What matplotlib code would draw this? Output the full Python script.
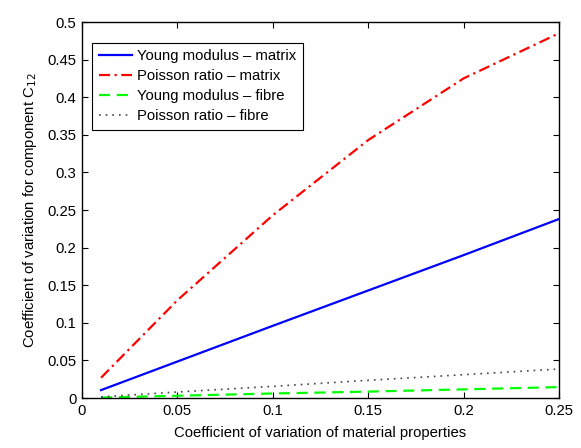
import matplotlib
matplotlib.use("Agg")
import matplotlib.pyplot as plt

plt.rcParams["font.family"] = ["Liberation Sans", "DejaVu Sans"]

cov = [0.01, 0.05, 0.1, 0.15, 0.2, 0.25]
young_matrix = [0.0105, 0.0485, 0.096, 0.143, 0.190, 0.238]
poisson_matrix = [0.027, 0.130, 0.243, 0.343, 0.425, 0.485]
young_fibre = [0.0005, 0.003, 0.006, 0.0085, 0.0115, 0.0145]
poisson_fibre = [0.0015, 0.008, 0.0155, 0.0235, 0.031, 0.0385]

fs = 10.7

fig = plt.figure(figsize=(5.81, 4.48), dpi=100)
ax = fig.add_axes([82 / 581, 1 - 398 / 448, 477 / 581, 376 / 448])

ax.plot(cov, young_matrix, color="#0000ff", lw=1.6, label="Young modulus \u2013 matrix")
ax.plot(cov, poisson_matrix, color="#ff0000", lw=1.6, linestyle=(0, (5, 2, 1, 2)),
        label="Poisson ratio \u2013 matrix")
ax.plot(cov, young_fibre, color="#00ff00", lw=1.6, linestyle=(0, (5, 3)),
        label="Young modulus \u2013 fibre")
ax.plot(cov, poisson_fibre, color="#444444", lw=1.2, linestyle=(0, (1, 3)),
        label="Poisson ratio \u2013 fibre")

ax.set_xlim(0, 0.25)
ax.set_ylim(0, 0.5)
ax.set_xticks([0, 0.05, 0.1, 0.15, 0.2, 0.25])
ax.set_xticklabels(["0", "0.05", "0.1", "0.15", "0.2", "0.25"])
ax.set_yticks([0, 0.05, 0.1, 0.15, 0.2, 0.25, 0.3, 0.35, 0.4, 0.45, 0.5])
ax.set_yticklabels(["0", "0.05", "0.1", "0.15", "0.2", "0.25", "0.3", "0.35", "0.4", "0.45", "0.5"])
ax.tick_params(direction="in", top=True, right=True, labelsize=fs, length=4, pad=4)
for s in ax.spines.values():
    s.set_linewidth(1.0)

ax.set_xlabel("Coefficient of variation of material properties", fontsize=fs, labelpad=6)
ax.set_ylabel("Coefficient of variation for component C$_{12}$", fontsize=fs, labelpad=6)

leg = ax.legend(loc="upper left", bbox_to_anchor=(0.022, 0.945), fontsize=fs,
                fancybox=False, edgecolor="black", framealpha=1,
                handlelength=2.2, borderpad=0.45, labelspacing=0.4, handletextpad=0.35,
                borderaxespad=0)
leg.get_frame().set_linewidth(0.8)

fig.savefig("out.png", dpi=100)
